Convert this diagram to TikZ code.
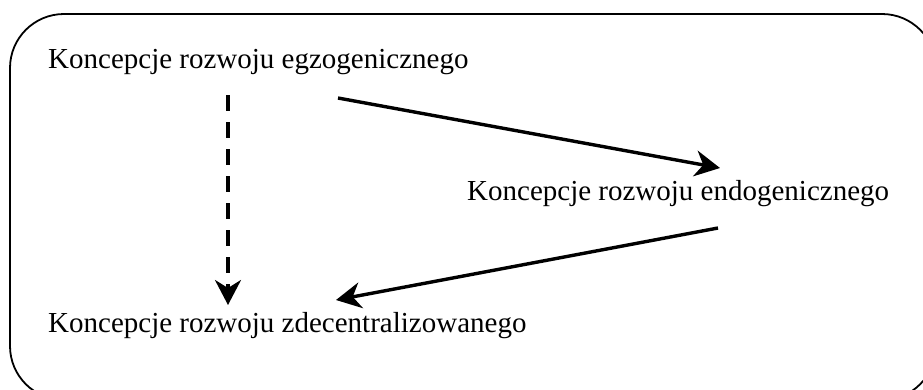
\documentclass[tikz,border=0pt]{standalone}
\usepackage{fontspec}
\setmainfont{Liberation Serif}
\usetikzlibrary{arrows.meta}
\tikzset{
  label/.style={anchor=base west,inner sep=0pt,font=\fontsize{29}{34}\selectfont},
  link/.style={line width=3.4pt,-{Stealth[length=25pt,width=26pt,inset=8pt]}}
}
\begin{document}
\begin{tikzpicture}[x=1pt,y=-1pt]
\useasboundingbox (0,0) rectangle (923,389);
\draw[line width=1.8pt,rounded corners=54pt] (10,14) rectangle (936,400);
\node[label] (egzo) at (48,68) {Koncepcje rozwoju egzogenicznego};
\node[label] (endo) at (467,200) {Koncepcje rozwoju endogenicznego};
\node[label] (zdec) at (48,332) {Koncepcje rozwoju zdecentralizowanego};
\coordinate (egzoS) at (228,95);
\coordinate (egzoE) at (338,98);
\coordinate (endoW) at (720,168);
\coordinate (endoS) at (718,228);
\coordinate (zdecN) at (228,305);
\coordinate (zdecE) at (336,300);
\draw[link,dash pattern=on 16pt off 11pt] (egzoS) -- (zdecN);
\draw[link] (egzoE) -- (endoW);
\draw[link] (endoS) -- (zdecE);
\end{tikzpicture}
\end{document}
